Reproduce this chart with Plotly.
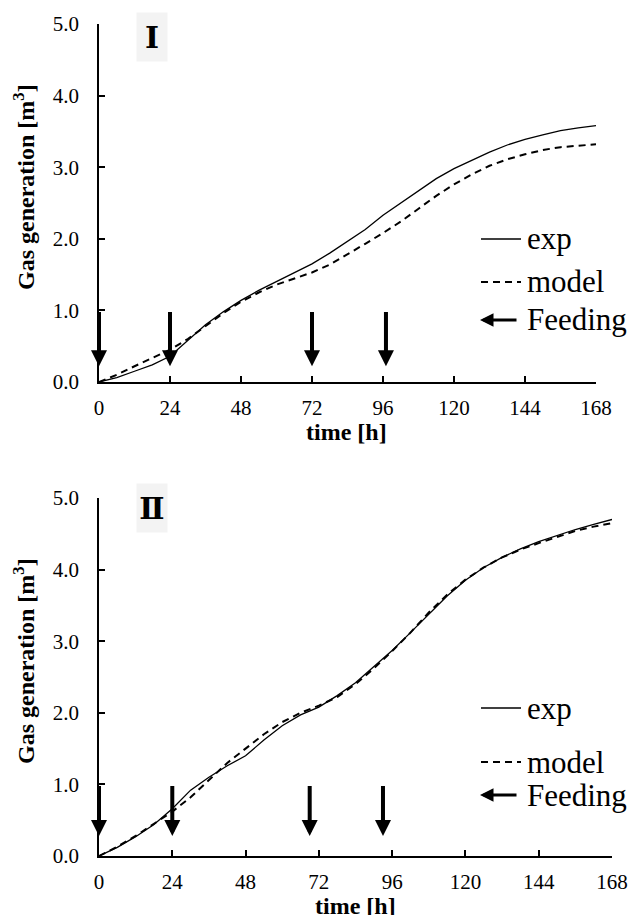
import plotly.graph_objects as go

# ---------------- data ----------------
time_h = [0, 6, 12, 18, 24, 30, 36, 42, 48, 54, 60, 66, 72, 78, 84, 90, 96,
          102, 108, 114, 120, 126, 132, 138, 144, 150, 156, 162, 168]

exp_I = [0.00, 0.06, 0.15, 0.24, 0.36, 0.58, 0.80, 0.98, 1.14, 1.28, 1.40, 1.52,
         1.65, 1.80, 1.97, 2.13, 2.33, 2.50, 2.68, 2.84, 2.98, 3.10, 3.21, 3.31,
         3.39, 3.45, 3.51, 3.55, 3.58]
model_I = [0.00, 0.10, 0.22, 0.33, 0.45, 0.60, 0.78, 0.96, 1.12, 1.25, 1.36, 1.45,
           1.53, 1.64, 1.78, 1.93, 2.08, 2.24, 2.42, 2.60, 2.76, 2.90, 3.02, 3.11,
           3.18, 3.24, 3.28, 3.30, 3.32]

exp_II = [0.00, 0.12, 0.27, 0.44, 0.66, 0.92, 1.10, 1.26, 1.40, 1.62, 1.82, 1.97,
          2.08, 2.24, 2.42, 2.64, 2.87, 3.12, 3.38, 3.63, 3.85, 4.03, 4.17, 4.29,
          4.39, 4.48, 4.56, 4.63, 4.70]
model_II = [0.00, 0.13, 0.28, 0.45, 0.62, 0.82, 1.06, 1.30, 1.50, 1.70, 1.87, 2.00,
            2.10, 2.22, 2.40, 2.62, 2.86, 3.12, 3.40, 3.65, 3.86, 4.03, 4.17, 4.28,
            4.37, 4.46, 4.54, 4.60, 4.65]

feed_I = [0, 24, 72, 97]
feed_II = [0, 24, 69, 93]
arrow_top = 1.0
arrow_tip_I = 0.22
arrow_tip_II = 0.28

x_ticks = [0, 24, 48, 72, 96, 120, 144, 168]
y_ticks = [0.0, 1.0, 2.0, 3.0, 4.0, 5.0]
panel_labels = ["Ⅰ", "Ⅱ"]
legend_labels = ["exp", "model", "Feeding"]
x_title = "time [h]"
y_title = "Gas generation [m<sup>3</sup>]"

# ---------------- layout ----------------
W, H = 630, 915
FONT = "Liberation Serif, Times New Roman, serif"


def px_x(p):
    return p / W


def px_y(p):
    return 1 - p / H


fig = go.Figure()

fig.add_trace(go.Scatter(x=time_h, y=exp_I, mode="lines", xaxis="x", yaxis="y",
                         line=dict(color="black", width=1.3), showlegend=False))
fig.add_trace(go.Scatter(x=time_h, y=model_I, mode="lines", xaxis="x", yaxis="y",
                         line=dict(color="black", width=2, dash="7px,5px"), showlegend=False))
fig.add_trace(go.Scatter(x=time_h, y=exp_II, mode="lines", xaxis="x2", yaxis="y2",
                         line=dict(color="black", width=1.3), showlegend=False))
fig.add_trace(go.Scatter(x=time_h, y=model_II, mode="lines", xaxis="x2", yaxis="y2",
                         line=dict(color="black", width=2, dash="7px,5px"), showlegend=False))

axis_common = dict(showline=True, linecolor="black", linewidth=1.5, ticks="inside",
                   ticklen=6, tickwidth=1.5, tickcolor="black", showgrid=False,
                   zeroline=False, automargin=False,
                   tickfont=dict(family=FONT, size=21, color="black"))

xa = dict(range=[0, 168], tickvals=x_ticks, ticktext=[str(t) for t in x_ticks],
          ticklabelstandoff=6, **axis_common)
ya = dict(range=[0, 5], tickvals=y_ticks, ticktext=[f"{v:.1f}" for v in y_ticks],
          ticklabelstandoff=14, **axis_common)

fig.update_layout(
    template="none",
    width=W, height=H, margin=dict(l=0, r=0, t=0, b=0, pad=0), autosize=False,
    paper_bgcolor="white", plot_bgcolor="white",
    xaxis=dict(domain=[px_x(99), px_x(596)], anchor="y", **xa),
    yaxis=dict(domain=[px_y(382), px_y(24)], anchor="x", **ya),
    xaxis2=dict(domain=[px_x(99), px_x(612)], anchor="y2", **xa),
    yaxis2=dict(domain=[px_y(856), px_y(498)], anchor="x2", **ya),
)

annotations = []
shapes = []

# feeding arrows
for xr, yr, feeds, tip in [("x", "y", feed_I, arrow_tip_I), ("x2", "y2", feed_II, arrow_tip_II)]:
    for f in feeds:
        annotations.append(dict(x=f, y=tip, ax=f, ay=arrow_top, xref=xr, yref=yr,
                                axref=xr, ayref=yr, showarrow=True, arrowhead=2,
                                arrowsize=0.8, arrowwidth=4, arrowcolor="black", text=""))

# axis titles and legend
for top, bottom, xmid, leg in [(24, 382, 346, (239, 282, 320)), (498, 856, 355, (708, 762, 795))]:
    annotations.append(dict(x=px_x(24), y=px_y(top + 163), xref="paper", yref="paper",
                            xanchor="center", yanchor="middle",
                            text=f"<b>{y_title}</b>", textangle=-90, showarrow=False,
                            font=dict(family=FONT, size=24, color="black")))
    annotations.append(dict(x=px_x(xmid), y=px_y(bottom + 50), xref="paper", yref="paper",
                            xanchor="center", yanchor="middle",
                            text=f"<b>{x_title}</b>",
                            showarrow=False, font=dict(family=FONT, size=24, color="black")))
    shapes.append(dict(type="line", xref="paper", yref="paper", x0=px_x(481), x1=px_x(521),
                       y0=px_y(leg[0]), y1=px_y(leg[0]), line=dict(color="black", width=1.3)))
    shapes.append(dict(type="line", xref="paper", yref="paper", x0=px_x(481), x1=px_x(521),
                       y0=px_y(leg[1]), y1=px_y(leg[1]),
                       line=dict(color="black", width=2, dash="7px,5px")))
    annotations.append(dict(x=px_x(480), y=px_y(leg[2]), xref="paper", yref="paper",
                            ax=38, ay=0, showarrow=True, arrowhead=2, arrowsize=0.9,
                            arrowwidth=3, arrowcolor="black", text=""))
    for lbl, yy in zip(legend_labels, leg):
        annotations.append(dict(x=px_x(525), y=px_y(yy), xref="paper", yref="paper",
                                text=lbl, showarrow=False, xanchor="left", yanchor="middle",
                                font=dict(family=FONT, size=31, color="black")))

for lbl, cy in zip(panel_labels, [37, 508]):
    annotations.append(dict(x=px_x(152), y=px_y(cy), xref="paper", yref="paper",
                            xanchor="center", yanchor="middle",
                            text=f"<b>{lbl}</b>", showarrow=False, bgcolor="#f3f3f3",
                            borderpad=0, width=30, height=48,
                            font=dict(family="Liberation Serif, DejaVu Serif, Noto Sans CJK JP, serif",
                                      size=30, color="black")))

fig.update_layout(annotations=annotations, shapes=shapes)

fig.write_html("out.html", config={"displayModeBar": False},
               post_script="document.body.style.margin='0px';document.body.style.overflow='hidden';")
